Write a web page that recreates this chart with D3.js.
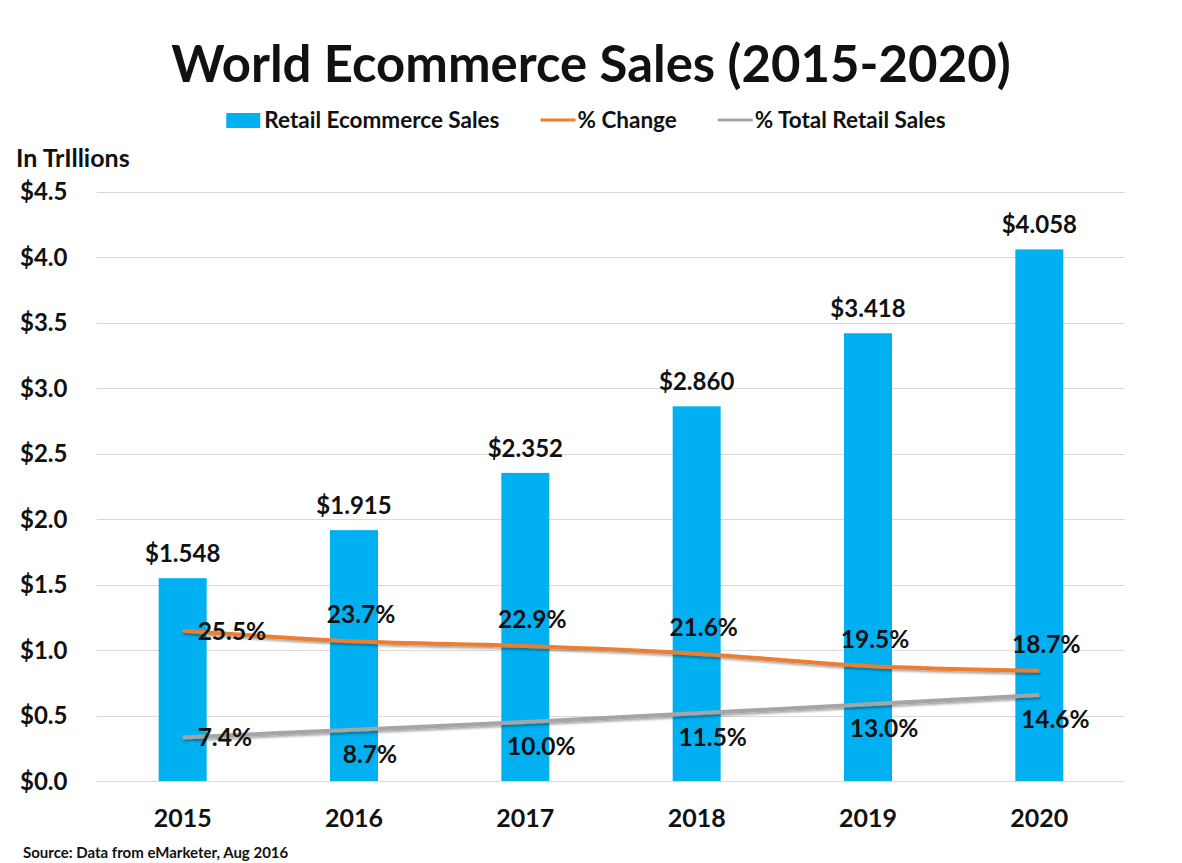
<!DOCTYPE html>
<html>
<head>
<meta charset="utf-8">
<script src="https://cdn.jsdelivr.net/npm/d3@7"></script>
<style>
  html, body { margin: 0; padding: 0; background: #ffffff; }
  svg { display: block; }
  text { font-family: Lato, "Open Sans", sans-serif; font-weight: 700; fill: #111; }
</style>
</head>
<body>
<svg id="chart" width="1182" height="863"></svg>
<script>
// World ecommerce sales 2015-2020 (trillions USD) with growth and share of retail
const years = ["2015", "2016", "2017", "2018", "2019", "2020"];
const salesTrillions = [1.548, 1.915, 2.352, 2.860, 3.418, 4.058];
const pctChange = [25.5, 23.7, 22.9, 21.6, 19.5, 18.7];
const pctTotalRetail = [7.4, 8.7, 10.0, 11.5, 13.0, 14.6];
const yTicks = [0, 0.5, 1.0, 1.5, 2.0, 2.5, 3.0, 3.5, 4.0, 4.5];
const legendItems = ["Retail Ecommerce Sales", "% Change", "% Total Retail Sales"];

const colors = { bar: "#00B0F0", change: "#ED7D31", share: "#A5A5A5", grid: "#D9D9D9" };

const svg = d3.select("#chart");
const plot = { left: 97, right: 1125, top: 191.5, bottom: 781 };

const x = d3.scaleBand().domain(years).range([plot.left, plot.right]).paddingInner(0.72).paddingOuter(0.36);
const y = d3.scaleLinear().domain([0, 4.5]).range([plot.bottom, plot.top]);
const y2 = d3.scaleLinear().domain([0, 100]).range([plot.bottom, plot.top]);
const cx = d => x(d) + x.bandwidth() / 2;

// drop shadow for the lines
const defs = svg.append("defs");
const f = defs.append("filter").attr("id", "lineShadow").attr("x", "-5%").attr("y", "-50%").attr("width", "110%").attr("height", "200%");
f.append("feDropShadow").attr("dx", 1).attr("dy", 2).attr("stdDeviation", 1.2).attr("flood-color", "#000").attr("flood-opacity", 0.35);

// title, fitted to its span
const title = svg.append("text").attr("x", 591).attr("y", 82).attr("text-anchor", "middle")
  .style("font-size", "54px").text("World Ecommerce Sales (2015-2020)");
const tw = title.node().getComputedTextLength();
title.style("font-size", (54 * 840 / tw).toFixed(1) + "px");

// legend
const legend = svg.append("g");
let lx = 0;
legendItems.forEach((name, i) => {
  const g = legend.append("g").attr("transform", `translate(${lx},0)`);
  if (i === 0) {
    g.append("rect").attr("x", 0).attr("y", -7).attr("width", 34).attr("height", 15).attr("fill", colors.bar);
  } else {
    g.append("line").attr("x1", 0).attr("x2", 35).attr("y1", 0).attr("y2", 0)
      .attr("stroke", i === 1 ? colors.change : colors.share).attr("stroke-width", 3);
  }
  const t = g.append("text").attr("x", i === 0 ? 38 : 37).attr("y", 8).style("font-size", "22.5px").text(name);
  lx += (i === 0 ? 38 : 37) + t.node().getComputedTextLength() + 41;
});
const lw = legend.node().getBBox().width;
legend.attr("transform", `translate(${586 - lw / 2},120)`);

// unit label
svg.append("text").attr("x", 16).attr("y", 167).style("font-size", "25px").text("In TrIllions");

// gridlines
svg.append("g").selectAll("line").data(yTicks).join("line")
  .attr("x1", plot.left).attr("x2", plot.right)
  .attr("y1", d => Math.round(y(d)) + 0.5).attr("y2", d => Math.round(y(d)) + 0.5)
  .attr("stroke", colors.grid).attr("stroke-width", 1);

// y axis labels
const yAxis = d3.axisLeft(y).tickValues(yTicks).tickSize(0).tickFormat(d => "$" + d3.format(".1f")(d));
const ya = svg.append("g").attr("transform", "translate(20,0)").call(yAxis);
ya.select(".domain").remove();
ya.selectAll("text").attr("x", 0).attr("text-anchor", "start").attr("dy", "0.35em")
  .style("font-size", "24px").attr("fill", "#111");

// x axis labels
const xAxis = d3.axisBottom(x).tickSize(0);
const xa = svg.append("g").attr("transform", `translate(0,${plot.bottom})`).call(xAxis);
xa.select(".domain").remove();
xa.selectAll("text").attr("y", 46).attr("dy", 0).style("font-size", "25px").attr("fill", "#111");

// bars
svg.append("g").selectAll("rect").data(years).join("rect")
  .attr("x", d => x(d)).attr("width", x.bandwidth())
  .attr("y", (d, i) => y(salesTrillions[i]))
  .attr("height", (d, i) => y(0) - y(salesTrillions[i]))
  .attr("fill", colors.bar);

// bar value labels
svg.append("g").selectAll("text").data(years).join("text")
  .attr("x", d => cx(d)).attr("y", (d, i) => y(salesTrillions[i]) - 16)
  .attr("text-anchor", "middle").style("font-size", "24px")
  .text((d, i) => "$" + d3.format(".3f")(salesTrillions[i]));

// lines on the percent scale
const line = d3.line().x(d => cx(d[0])).y(d => y2(d[1])).curve(d3.curveMonotoneX);
const series = [
  { values: pctChange, color: colors.change, above: true },
  { values: pctTotalRetail, color: colors.share, above: false }
];
series.forEach(s => {
  const pts = years.map((yr, i) => [yr, s.values[i]]);
  svg.append("path").datum(pts).attr("d", line)
    .attr("fill", "none").attr("stroke", s.color).attr("stroke-width", 4)
    .attr("stroke-linecap", "butt").attr("filter", "url(#lineShadow)");
});

// percent labels: first point to the right, others above/below
series.forEach(s => {
  svg.append("g").selectAll("text").data(years).join("text")
    .attr("x", (d, i) => i === 0 ? cx(d) + 15 : cx(d) + (s.above ? 7 : 16))
    .attr("y", (d, i) => {
      const py = y2(s.values[i]);
      if (i === 0) return py + 9;
      return s.above ? py - 18 : py + 33;
    })
    .attr("text-anchor", (d, i) => i === 0 ? "start" : "middle")
    .style("font-size", "24.5px")
    .text((d, i) => d3.format(".1f")(s.values[i]) + "%");
});

// source note
svg.append("text").attr("x", 23).attr("y", 858).style("font-size", "15px")
  .text("Source:  Data from eMarketer, Aug 2016");
</script>
</body>
</html>
